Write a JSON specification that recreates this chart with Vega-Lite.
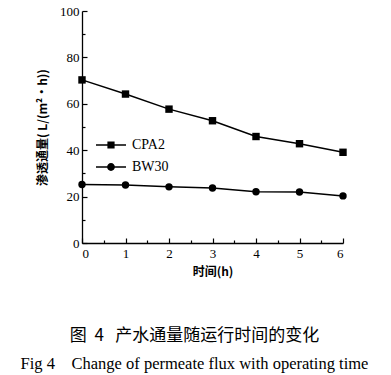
{
  "$schema": "https://vega.github.io/schema/vega-lite/v6.json",
  "width": 261,
  "height": 232,
  "autosize": {"type": "none"},
  "padding": {"left": 82, "top": 11, "right": 48, "bottom": 132},
  "background": "white",
  "title": {
    "text": "图\u00a0\u00a04\u00a0\u00a0\u00a0产水通量随运行时间的变化",
    "subtitle": "Fig\u00a04\u00a0\u00a0\u00a0\u00a0Change\u00a0of\u00a0permeate\u00a0flux\u00a0with\u00a0operating\u00a0time",
    "orient": "bottom",
    "anchor": "middle",
    "frame": "group",
    "dx": -18,
    "offset": 51,
    "font": "Noto Sans CJK SC",
    "fontSize": 17,
    "fontWeight": "normal",
    "color": "black",
    "subtitleFont": "Liberation Serif",
    "subtitleFontSize": 16.5,
    "subtitleColor": "black",
    "subtitlePadding": 11
  },
  "data": {
    "values": [
      {"t": 0, "flux": 70.3, "series": "CPA2"},
      {"t": 1, "flux": 64.2, "series": "CPA2"},
      {"t": 2, "flux": 57.7, "series": "CPA2"},
      {"t": 3, "flux": 52.7, "series": "CPA2"},
      {"t": 4, "flux": 45.9, "series": "CPA2"},
      {"t": 5, "flux": 42.8, "series": "CPA2"},
      {"t": 6, "flux": 39.1, "series": "CPA2"},
      {"t": 0, "flux": 25.2, "series": "BW30"},
      {"t": 1, "flux": 25.0, "series": "BW30"},
      {"t": 2, "flux": 24.2, "series": "BW30"},
      {"t": 3, "flux": 23.7, "series": "BW30"},
      {"t": 4, "flux": 22.1, "series": "BW30"},
      {"t": 5, "flux": 22.0, "series": "BW30"},
      {"t": 6, "flux": 20.3, "series": "BW30"}
    ]
  },
  "encoding": {
    "x": {
      "field": "t",
      "type": "quantitative",
      "scale": {"domain": [0, 6], "nice": false, "zero": false},
      "axis": {
        "title": "时间(h)",
        "values": [0, 0.5, 1, 1.5, 2, 2.5, 3, 3.5, 4, 4.5, 5, 5.5, 6],
        "labelExpr": "datum.value % 1 === 0 ? format(datum.value, 'd') : ''",
        "tickSize": {"condition": {"test": "datum.value % 1 === 0", "value": -5}, "value": -3},
        "labelPadding": 9,
        "titlePadding": 6
      }
    },
    "y": {
      "field": "flux",
      "type": "quantitative",
      "scale": {"domain": [0, 100], "nice": false},
      "axis": {
        "title": "渗透通量( L/(m²·h))",
        "values": [0, 10, 20, 30, 40, 50, 60, 70, 80, 90, 100],
        "labelExpr": "datum.value % 20 === 0 ? format(datum.value, 'd') : ''",
        "tickSize": {"condition": {"test": "datum.value % 20 === 0", "value": -5}, "value": -3},
        "labelPadding": 8,
        "titlePadding": 10
      }
    }
  },
  "layer": [
    {
      "mark": {"type": "line", "color": "black", "strokeWidth": 1.5},
      "encoding": {"detail": {"field": "series"}}
    },
    {
      "mark": {"type": "point", "filled": true, "color": "black", "opacity": 1, "size": 55},
      "encoding": {
        "shape": {
          "field": "series",
          "type": "nominal",
          "scale": {"domain": ["CPA2", "BW30"], "range": ["square", "circle"]},
          "legend": null
        }
      }
    },
    {
      "transform": [{"filter": "false"}],
      "mark": {"type": "point", "filled": true, "color": "black", "opacity": 1},
      "encoding": {
        "shape": {
          "field": "series",
          "type": "nominal",
          "scale": {
            "domain": ["CPA2", "BW30"],
            "range": [
              "M-1,-0.045H1V0.045H-1ZM-0.24,-0.24H0.24V0.24H-0.24Z",
              "M-1,-0.045H1V0.045H-1ZM0.26,0A0.26,0.26,0,1,1,-0.26,0A0.26,0.26,0,1,1,0.26,0Z"
            ]
          },
          "legend": {
            "title": null,
            "orient": "none",
            "legendX": 14,
            "legendY": 119,
            "padding": 0,
            "symbolSize": 900,
            "symbolFillColor": "black",
            "symbolStrokeColor": "black",
            "symbolStrokeWidth": 0,
            "labelFont": "Liberation Serif",
            "labelFontSize": 14,
            "labelColor": "black",
            "labelOffset": 6,
            "rowPadding": -10
          }
        }
      }
    }
  ],
  "resolve": {"scale": {"shape": "independent"}},
  "config": {
    "view": {"stroke": null},
    "axis": {
      "domainColor": "black",
      "domainWidth": 1.3,
      "tickColor": "black",
      "tickWidth": 1.2,
      "grid": false,
      "labelFont": "Liberation Serif",
      "labelFontSize": 13,
      "labelColor": "black",
      "titleFont": "Noto Sans CJK SC",
      "titleFontSize": 12,
      "titleFontWeight": "bold",
      "titleColor": "black"
    }
  }
}
